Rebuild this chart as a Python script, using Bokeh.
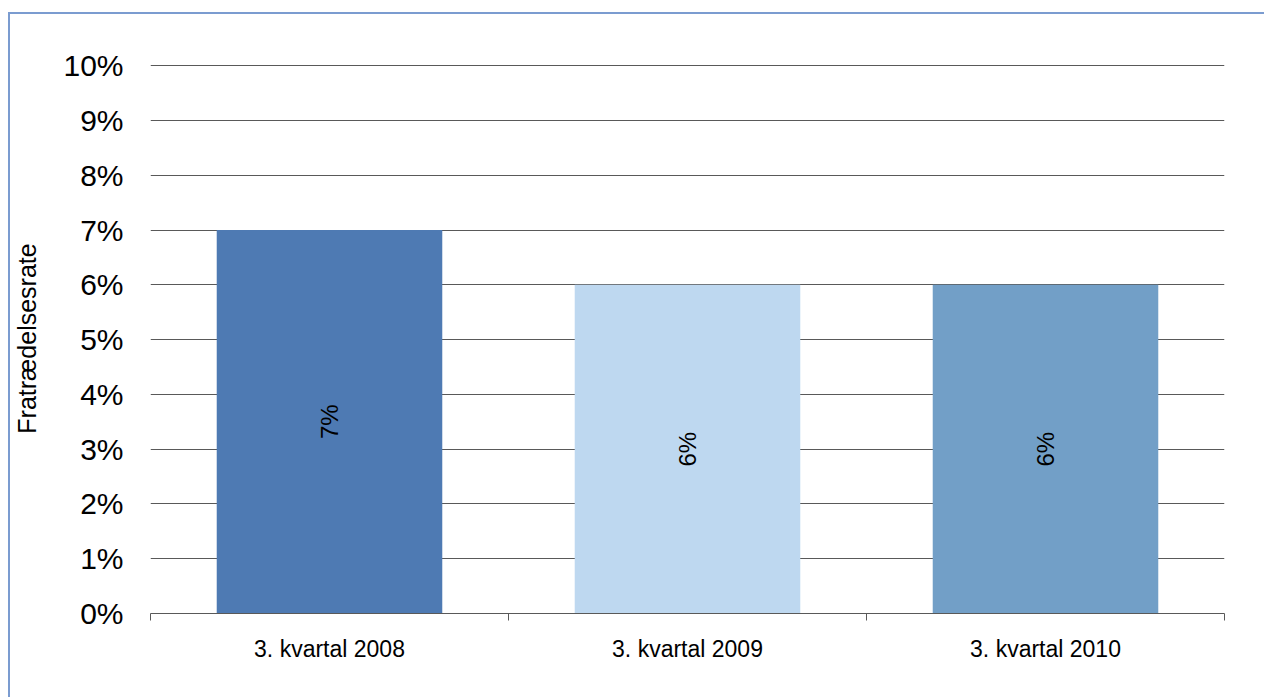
from math import pi
from bokeh.plotting import figure
from bokeh.models import ColumnDataSource, Range1d, FixedTicker, PrintfTickFormatter
from bokeh.core.properties import value
from bokeh.embed import file_html
from bokeh.resources import INLINE

categories = ["3. kvartal 2008", "3. kvartal 2009", "3. kvartal 2010"]
rates = [7, 6, 6]
labels = ["7%", "6%", "6%"]
colors = ["#4E7AB3", "#BED8F0", "#729FC7"]
y_ticks = list(range(0, 11))

FONT = "Liberation Sans"
GRID = "#595959"

xs = [i + 0.5 for i in range(len(categories))]
src = ColumnDataSource(dict(x=xs, top=rates, mid=[r / 2 for r in rates],
                            label=labels, color=colors, cat=categories))

p = figure(width=1256, height=685, output_backend="svg", toolbar_location=None,
           x_range=Range1d(0, len(categories)), y_range=Range1d(0, 10.04),
           min_border_left=140, min_border_right=42, min_border_top=49, min_border_bottom=86)
p.styles = {"margin-left": "8px", "margin-top": "12px",
            "border-left": "2px solid #7B9CD0", "border-top": "2px solid #7B9CD0"}
p.outline_line_color = None
p.background_fill_color = "white"
p.border_fill_color = "white"

p.vbar(x="x", top="top", bottom=0, width=0.63, fill_color="color", line_color=None, source=src)
p.text(x="x", y="mid", text="label", angle=pi / 2, text_align="center", text_baseline="middle",
       text_font=value(FONT), text_font_size="24px", text_color="black", source=src)

# y axis
p.yaxis.ticker = FixedTicker(ticks=y_ticks)
p.yaxis.formatter = PrintfTickFormatter(format="%d%%")
p.yaxis.axis_line_color = None
p.yaxis.major_tick_line_color = None
p.yaxis.major_tick_out = 0
p.yaxis.major_tick_in = 0
p.yaxis.minor_tick_line_color = None
p.yaxis.minor_tick_out = 0
p.yaxis.minor_tick_in = 0
p.yaxis.major_label_text_font = FONT
p.yaxis.major_label_text_font_size = "30px"
p.yaxis.major_label_text_color = "black"
p.yaxis.major_label_standoff = 27
p.yaxis.axis_label = "Fratrædelsesrate"
p.yaxis.axis_label_text_font = FONT
p.yaxis.axis_label_text_font_size = "25px"
p.yaxis.axis_label_text_font_style = "normal"
p.yaxis.axis_label_text_color = "black"
p.yaxis.axis_label_standoff = 19

p.ygrid.ticker = FixedTicker(ticks=y_ticks)
p.ygrid.grid_line_color = GRID
p.ygrid.grid_line_width = 1
p.xgrid.grid_line_color = None

# x axis
p.xaxis.ticker = FixedTicker(ticks=xs, minor_ticks=list(range(len(categories) + 1)))
p.xaxis.major_label_overrides = {x: c for x, c in zip(xs, categories)}
p.xaxis.axis_line_color = GRID
p.xaxis.axis_line_width = 1
p.xaxis.major_tick_line_color = None
p.xaxis.major_tick_out = 0
p.xaxis.major_tick_in = 0
p.xaxis.minor_tick_line_color = GRID
p.xaxis.minor_tick_out = 7
p.xaxis.minor_tick_in = 0
p.xaxis.major_label_text_font = FONT
p.xaxis.major_label_text_font_size = "23px"
p.xaxis.major_label_text_color = "black"
p.xaxis.major_label_standoff = 15

open("out.html", "w").write(file_html(p, INLINE))
